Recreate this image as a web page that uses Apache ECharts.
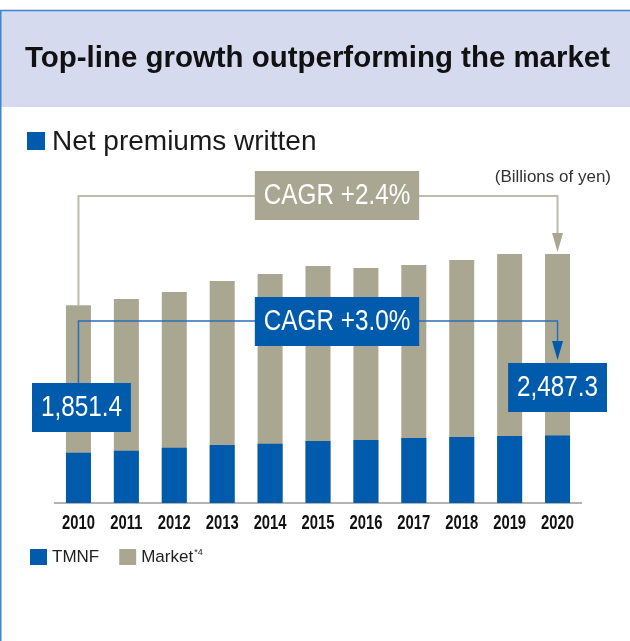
<!DOCTYPE html>
<html>
<head>
<meta charset="utf-8">
<script src="https://cdn.jsdelivr.net/npm/echarts@6/dist/echarts.min.js"></script>
<style>
  html, body { margin: 0; padding: 0; background: #fff; }
  #chart { width: 630px; height: 641px; }
</style>
</head>
<body>
<div id="chart"></div>
<script>
// Net premiums written, billions of yen
const years = ['2010', '2011', '2012', '2013', '2014', '2015', '2016', '2017', '2018', '2019', '2020'];
const tmnf = [1851.4, 1930, 2041, 2140, 2188, 2288, 2325, 2399, 2435, 2472, 2487.3];
const market = [7300, 7530, 7790, 8190, 8450, 8750, 8670, 8780, 8970, 9190, 9190];
const cagrMarket = 'CAGR +2.4%';
const cagrTmnf = 'CAGR +3.0%';

const BLUE = '#005bac';
const GRAY = '#a9a792';
const SANS = "'Liberation Sans', Arial, sans-serif";

const fmt = v => v.toLocaleString('en-US', { minimumFractionDigits: 1, maximumFractionDigits: 1 });

// width of a string in a given canvas font, used to squeeze text into a condensed look
const measureCtx = document.createElement('canvas').getContext('2d');
const textWidth = (text, font) => { measureCtx.font = font; return measureCtx.measureText(text).width; };

const chart = echarts.init(document.getElementById('chart'), null, { renderer: 'canvas' });

chart.setOption({
  backgroundColor: '#fff',
  animation: false,
  grid: { left: 54.5, width: 527, top: 232, bottom: 138 },
  xAxis: {
    type: 'category',
    data: years,
    axisTick: { show: false },
    axisLine: { lineStyle: { color: '#9a9a9a', width: 1.5 } },
    axisLabel: { show: false }
  },
  yAxis: { type: 'value', min: 0, max: 10000, show: false, splitLine: { show: false } },
  legend: {
    data: ['TMNF', 'Market'],
    left: 30, top: 548, padding: 0,
    icon: 'rect', itemWidth: 17, itemHeight: 16, itemGap: 20,
    textStyle: {
      fontFamily: SANS, fontSize: 17, color: '#222',
      rich: { sup: { fontFamily: SANS, fontSize: 9, color: '#222', verticalAlign: 'top', padding: [0, 0, 9, 1] } }
    },
    formatter: name => name === 'Market' ? 'Market{sup|*4}' : name
  },
  series: [
    { name: 'Market', type: 'bar', data: market, barWidth: 25, itemStyle: { color: GRAY } },
    { name: 'TMNF', type: 'bar', data: tmnf, barWidth: 25, barGap: '-100%', itemStyle: { color: BLUE } }
  ]
});

// Annotation layer: frame, headings, year labels and CAGR brackets placed from the axis scales
const px = (i, v) => chart.convertToPixel({ seriesIndex: 0 }, [i, v]);
const last = years.length - 1;
const [x0, mTop0] = px(0, market[0]);
const [x1, mTop1] = px(last, market[last]);
const [, baseY] = px(0, 0);

const grayLineY = 196;
const blueLineY = 321;
const box0Top = 383;
const box1Top = 363;
const BOX_FONT = '30px ' + SANS;
const BOX_SCALE = 0.81;

const boxText = (text, x, y, bg) => ({
  type: 'text', x, y, z: 20, scaleX: BOX_SCALE,
  style: {
    text, fill: '#fff', backgroundColor: bg,
    font: BOX_FONT, align: 'center', verticalAlign: 'top',
    padding: [10, 11, 9, 11], lineHeight: 30
  }
});

const arrow = (x, tipY, color) => ({
  type: 'polygon', z: 15,
  shape: { points: [[x - 5.5, tipY - 19], [x + 5.5, tipY - 19], [x, tipY]] },
  style: { fill: color }
});

const TITLE = 'Top-line growth outperforming the market';
const TITLE_FONT = 'bold 30px ' + SANS;
const titleScale = 585 / textWidth(TITLE, TITLE_FONT);

const YEAR_FONT = 'bold 20px ' + SANS;
const yearLabels = years.map((y, i) => ({
  type: 'text', x: px(i, 0)[0], y: baseY + 10, z: 5, scaleX: 0.74,
  style: { text: y, fill: '#111', font: YEAR_FONT, align: 'center', verticalAlign: 'top' }
}));

chart.setOption({
  graphic: [
    { type: 'rect', z: 1, shape: { x: 0, y: 10, width: 630, height: 97 }, style: { fill: '#d5daef' } },
    { type: 'line', z: 2, shape: { x1: 0, y1: 10.5, x2: 630, y2: 10.5 }, style: { stroke: '#3f84cc', lineWidth: 1.5 } },
    { type: 'line', z: 2, shape: { x1: 0.75, y1: 10, x2: 0.75, y2: 641 }, style: { stroke: '#3f84cc', lineWidth: 1.5 } },
    { type: 'text', x: 25, y: 59, z: 3, scaleX: titleScale, style: { text: TITLE, fill: '#111', font: TITLE_FONT, verticalAlign: 'middle' } },
    { type: 'rect', z: 3, shape: { x: 27, y: 132, width: 18, height: 18 }, style: { fill: BLUE } },
    { type: 'text', x: 52, y: 142, z: 3, style: { text: 'Net premiums written', fill: '#1a1a1a', font: '28px ' + SANS, verticalAlign: 'middle' } },
    { type: 'text', x: 611, y: 177, z: 3, style: { text: '(Billions of yen)', fill: '#333', font: '17px ' + SANS, align: 'right', verticalAlign: 'middle' } },

    // market CAGR bracket
    { type: 'polyline', z: 10, shape: { points: [[x0, mTop0], [x0, grayLineY], [x1, grayLineY], [x1, mTop1 - 19]] }, style: { stroke: '#bdbbab', lineWidth: 2, fill: null } },
    arrow(x1, mTop1 - 2, '#a9a792'),
    boxText(cagrMarket, 337, 171, GRAY),

    // TMNF CAGR bracket
    { type: 'polyline', z: 10, shape: { points: [[x0, box0Top], [x0, blueLineY], [x1, blueLineY], [x1, box1Top - 20]] }, style: { stroke: '#2d6db5', lineWidth: 1.5, fill: null } },
    arrow(x1, box1Top - 3, BLUE),
    boxText(cagrTmnf, 337, 297, BLUE),
    boxText(fmt(tmnf[0]), x0 + 3, box0Top, BLUE),
    boxText(fmt(tmnf[last]), x1, box1Top, BLUE),

    ...yearLabels
  ]
});
</script>
</body>
</html>
